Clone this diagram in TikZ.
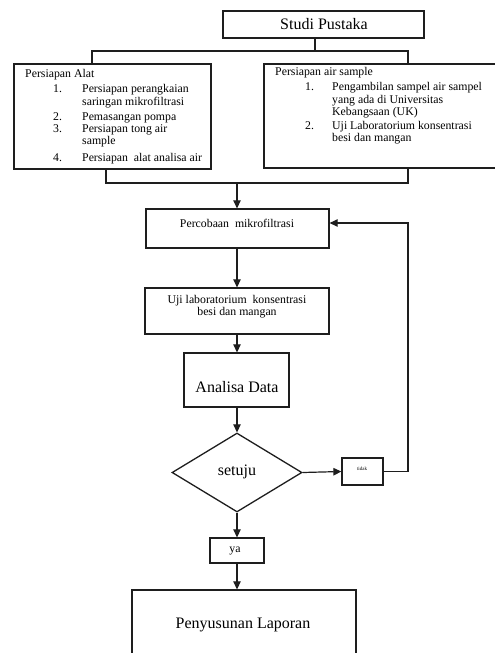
\documentclass[tikz,border=0pt]{standalone}
\usepackage{fontspec}
\setmainfont{Liberation Serif}
\usepackage{tikz}
\usetikzlibrary{arrows.meta,positioning,calc,shapes.geometric}
\definecolor{fcink}{HTML}{1E1E1E}
\tikzset{
  flowBox/.style={draw=fcink, line width=1.3pt, fill=white, inner sep=0pt},
  flowDiamond/.style={draw=fcink, line width=1.3pt, fill=white, diamond, inner sep=0pt},
  flowLine/.style={draw=fcink, line width=1.2pt},
  flowArrow/.style={-{Triangle[length=8pt,width=7.5pt]}, draw=fcink, line width=1.2pt},
  bigText/.style={font=\fontsize{16}{18}\selectfont, inner sep=0pt},
  smallText/.style={font=\fontsize{11.8}{12.2}\selectfont, inner sep=0pt, align=center},
  tinyText/.style={font=\fontsize{5}{6}\selectfont, inner sep=0pt}
}

\begin{document}
\begin{tikzpicture}[x=1pt,y=-1pt]
  \useasboundingbox (0,0) rectangle (495,653);
  \clip (0,0) rectangle (495,653);
  \fill[white] (0,0) rectangle (495,653);

  % boxes
  \node[flowBox, minimum width=201pt, minimum height=27pt] (studi) at (323.5,24.5) {};
  \node[bigText] (studiText) at (324,24) {Studi Pustaka};

  \node[flowBox, minimum width=197pt, minimum height=105pt] (alat) at (112.5,116.5) {};
  \node[smallText, anchor=north west, align=left] (alatList) at (25,69) {%
    \begin{tabular}{@{\hspace{28pt}}p{17pt}@{\hspace{12pt}}l@{}}
      \multicolumn{2}{@{}l@{}}{Persiapan Alat}\\[3pt]
      1. & Persiapan perangkaian\\
         & saringan mikrofiltrasi\\[3pt]
      2. & Pemasangan pompa\\
      3. & Persiapan tong air\\
         & sample\\[5pt]
      4. & Persiapan\ \ alat analisa air
    \end{tabular}};

  \node[flowBox, minimum width=241pt, minimum height=104pt] (sampel) at (384.5,116) {};
  \node[smallText, anchor=north west, align=left] (sampelList) at (275,67) {%
    \begin{tabular}{@{\hspace{30pt}}p{15pt}@{\hspace{12pt}}l@{}}
      \multicolumn{2}{@{}l@{}}{Persiapan air sample}\\[3pt]
      1. & Pengambilan sampel air sampel\\
         & yang ada di Universitas\\
         & Kebangsaan (UK)\\[2pt]
      2. & Uji Laboratorium konsentrasi\\
         & besi dan mangan
    \end{tabular}};

  \node[flowBox, minimum width=183pt, minimum height=39pt] (coba) at (237.5,228.5) {};
  \node[smallText] (cobaText) at (237,223) {Percobaan\ \ mikrofiltrasi};

  \node[flowBox, minimum width=184pt, minimum height=46pt] (uji) at (237,311) {};
  \node[smallText] (ujiText) at (237,307) {Uji laboratorium\ \ konsentrasi\\besi dan mangan};

  \node[flowBox, minimum width=105pt, minimum height=54pt] (analisa) at (236.5,380) {};
  \node[bigText] (analisaText) at (237,387) {Analisa Data};

  \node[flowDiamond, minimum width=130pt, minimum height=79pt] (setuju) at (237,472.5) {};
  \node[bigText] (setujuText) at (237,472) {setuju};

  \node[flowBox, minimum width=41pt, minimum height=27pt] (tidak) at (362.5,471.5) {};
  \node[tinyText] (tidakText) at (362,469) {tidak};

  \node[flowBox, minimum width=54pt, minimum height=25pt] (ya) at (237,550.5) {};
  \node[smallText] (yaText) at (235,551) {ya};

  \node[flowBox, minimum width=224pt, minimum height=72pt] (laporan) at (244,626) {};
  \node[bigText] (laporanText) at (243,625) {Penyusunan Laporan};

  % connectors
  \coordinate (splitY) at (0,51);
  \coordinate (joinY) at (0,183);
  \coordinate (split) at ([xshift=-8.5pt]studi.south |- splitY);
  \coordinate (join) at (setuju.north |- joinY);
  \coordinate (loop) at (408,223);

  \draw[flowLine] ([xshift=-8.5pt]studi.south) -- (split);
  \draw[flowLine] ([xshift=-20.5pt]alat.north) |- (split) -| ([xshift=23.5pt]sampel.north);
  \draw[flowLine] ([xshift=-6.5pt]alat.south) |- (join) -| ([xshift=23.5pt]sampel.south);
  \draw[flowArrow] (join) -- (join |- coba.north);
  \draw[flowArrow] (join |- coba.south) -- (join |- uji.north);
  \draw[flowArrow] (join |- uji.south) -- (join |- analisa.north);
  \draw[flowArrow] (join |- analisa.south) -- (setuju.north);
  \draw[flowArrow] (setuju.east) -- (tidak.west);
  \draw[flowArrow] (tidak.east) -| (loop) -- ([yshift=5.5pt]coba.east);
  \draw[flowArrow] (setuju.south) -- (ya.north);
  \draw[flowArrow] (ya.south) -- (ya.south |- laporan.north);
\end{tikzpicture}
\end{document}
